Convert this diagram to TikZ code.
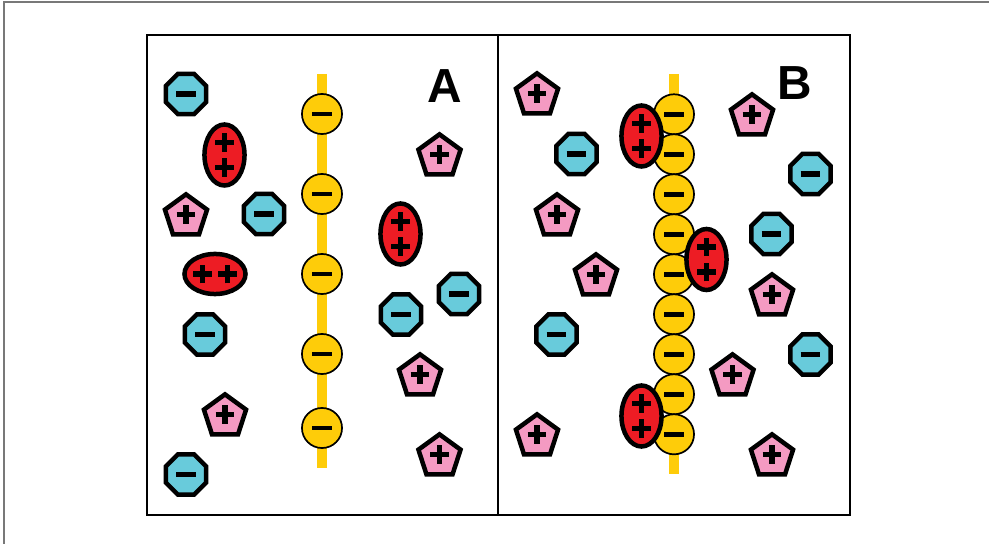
\documentclass[tikz,border=0pt]{standalone}
\usepackage{fontspec}
\setmainfont{Liberation Sans}
\usepackage{xcolor}
\usetikzlibrary{shapes.geometric}
\definecolor{ionblue}{RGB}{104,203,219}
\definecolor{ionpink}{RGB}{244,154,194}
\definecolor{ionred}{RGB}{237,28,36}
\definecolor{ionyellow}{RGB}{254,204,9}
\definecolor{framegray}{RGB}{120,120,120}

\newcommand{\minusbar}[1]{\draw[line width=#1] (path picture bounding box.center) ++(-7.1pt,0) -- ++(14.2pt,0);}
\newcommand{\plusbar}[2]{\draw[line width=3.8pt] ([xshift=#1,yshift=#2]path picture bounding box.center) ++(-6.6pt,0) -- ++(13.2pt,0) ++(-6.6pt,-6.6pt) -- ++(0,13.2pt);}

\tikzset{
 anion/.style={regular polygon, regular polygon sides=8, minimum size=30.8pt, inner sep=0pt,
  draw, line width=3.2pt, fill=ionblue, path picture={\minusbar{3.8pt}}},
 cation/.style={regular polygon, regular polygon sides=5, minimum size=31.5pt, inner sep=0pt,
  draw, line width=3.2pt, fill=ionpink, path picture={\plusbar{0pt}{0pt}}},
 dication/.style={ellipse, minimum width=28.5pt, minimum height=43.4pt, inner sep=0pt,
  draw, line width=3.2pt, fill=ionred, path picture={\plusbar{0pt}{9pt}\plusbar{0pt}{-9pt}}},
 dicationh/.style={ellipse, minimum width=43.4pt, minimum height=28.5pt, inner sep=0pt,
  draw, line width=3.2pt, fill=ionred, path picture={\plusbar{-9pt}{0pt}\plusbar{9pt}{0pt}}},
 surfcharge/.style={circle, minimum size=28.5pt, inner sep=0pt,
  draw, line width=1.2pt, fill=ionyellow, path picture={\minusbar{3.2pt}}},
 strand/.style={ionyellow, line width=7.5pt},
 panel/.style={line width=1.2pt},
 panellabel/.style={inner sep=0pt, font=\fontsize{34}{34}\selectfont\bfseries}
}

\begin{document}
\begin{tikzpicture}[x=0.025cm, y=-0.025cm]

 \useasboundingbox (0,0) rectangle (989,544);

 \coordinate (Atop) at (322,74);
 \coordinate (Abot) at (322,468);
 \coordinate (Btop) at (674,74);
 \coordinate (Bbot) at (674,474);

 \draw[framegray, line width=1pt] (4,544) -- (4,2) -- (989,2);
 \draw[panel] (147,35) rectangle (850,515);
 \draw[panel] (498,35) -- (498,515);

 % panel A
 \draw[strand] (Atop) -- (Abot);
 \foreach \y [count=\i] in {114,194,274,354,428}
  \node[surfcharge] (sa\i) at (322,\y) {};

 \node[anion] (a1) at (186,94) {};
 \node[anion] (a2) at (264,214) {};
 \node[anion] (a3) at (205,334.5) {};
 \node[anion] (a4) at (186,474.5) {};
 \node[anion] (a5) at (401,314.5) {};
 \node[anion] (a6) at (459,294) {};

 \node[cation] (c1) at (186,216.5) {};
 \node[cation] (c2) at (225,416.5) {};
 \node[cation] (c3) at (439.5,156.5) {};
 \node[cation] (c4) at (420,376.5) {};
 \node[cation] (c5) at (439.5,456.5) {};

 \node[dication] (d1) at (224.5,155) {};
 \node[dication] (d2) at (400.5,234) {};
 \node[dicationh] (d3) at (215,274) {};

 \node[panellabel] (labA) at (445,86) {A};

 % panel B
 \draw[strand] (Btop) -- (Bbot);
 \foreach \i in {1,...,9}
  \node[surfcharge] (sb\i) at (674,{74.3+40*\i}) {};

 \node[cation] (c6) at (537,95.5) {};
 \node[cation] (c7) at (752,116.5) {};
 \node[cation] (c8) at (557,216.5) {};
 \node[cation] (c9) at (596,276.5) {};
 \node[cation] (c10) at (772,296.5) {};
 \node[cation] (c11) at (732.5,376.5) {};
 \node[cation] (c12) at (537,436.5) {};
 \node[cation] (c13) at (772,456.5) {};

 \node[anion] (a7) at (576.5,154) {};
 \node[anion] (a8) at (810.5,174) {};
 \node[anion] (a9) at (771.5,234) {};
 \node[anion] (a10) at (556.5,334.5) {};
 \node[anion] (a11) at (810.5,354.5) {};

 \node[dication] (d4) at (641.5,136) {};
 \node[dication] (d5) at (706.5,259.5) {};
 \node[dication] (d6) at (641.5,416) {};

 \node[panellabel] (labB) at (795,83.5) {B};

\end{tikzpicture}
\end{document}
